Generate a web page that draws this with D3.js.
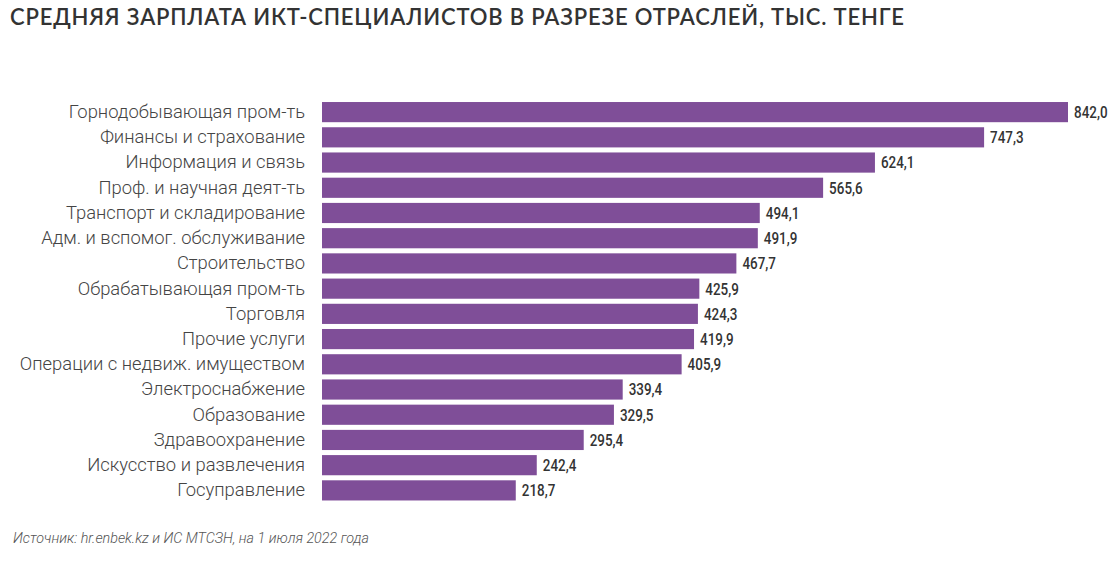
<!DOCTYPE html>
<html><head><meta charset="utf-8">
<script src="https://cdn.jsdelivr.net/npm/d3@7"></script>
<style>body{margin:0;background:#fff;}</style>
</head><body>
<svg id="c" width="1120" height="561"></svg>
<script>
const categories = ["Горнодобывающая пром-ть","Финансы и страхование","Информация и связь","Проф. и научная деят-ть","Транспорт и складирование","Адм. и вспомог. обслуживание","Строительство","Обрабатывающая пром-ть","Торговля","Прочие услуги","Операции с недвиж. имуществом","Электроснабжение","Образование","Здравоохранение","Искусство и развлечения","Госуправление"];
const values = [842.0,747.3,624.1,565.6,494.1,491.9,467.7,425.9,424.3,419.9,405.9,339.4,329.5,295.4,242.4,218.7];
const title = "СРЕДНЯЯ ЗАРПЛАТА ИКТ-СПЕЦИАЛИСТОВ В РАЗРЕЗЕ ОТРАСЛЕЙ, ТЫС. ТЕНГЕ";
const source = "Источник: hr.enbek.kz и ИС МТСЗН, на 1 июля 2022 года";

const svg = d3.select("#c");
const x = d3.scaleLinear().domain([0, 842]).range([322, 1068]);
const y = d3.scaleBand().domain(categories).range([99.5, 503]).paddingInner(0.2).paddingOuter(0.1);

svg.append("text").attr("x", 10).attr("y", 25).text(title)
  .attr("font-family", "Lato").attr("font-weight", 600).attr("font-size", 22).attr("fill", "#333")
  .attr("textLength", 894).attr("lengthAdjust", "spacing");

const yAxis = d3.axisLeft(y).tickSize(0).tickPadding(17);
const ga = svg.append("g").attr("transform", `translate(${x(0)},0)`).call(yAxis);
ga.select(".domain").remove();
ga.selectAll("text").attr("font-family", "Roboto").attr("font-weight", 300).attr("font-size", 18.4).attr("fill", "#444");

svg.selectAll("rect.bar").data(values).join("rect").attr("class","bar")
  .attr("x", x(0)).attr("y", (d,i)=>y(categories[i]))
  .attr("width", d=>x(d)-x(0)).attr("height", y.bandwidth()).attr("fill", "#7f4e98");

svg.selectAll("text.val").data(values).join("text").attr("class","val")
  .attr("transform", (d,i)=>`translate(${x(d)+6},${y(categories[i])+y.bandwidth()/2}) scale(0.84,1)`)
  .attr("dy","0.37em")
  .text(d=>d.toFixed(1).replace(".", ","))
  .attr("font-family", "Roboto").attr("font-weight", 500).attr("font-size", 16).attr("fill", "#333");

svg.append("text").attr("x", 13).attr("y", 543).text(source)
  .attr("font-family", "Roboto").attr("font-style", "italic").attr("font-weight", 300).attr("font-size", 14.3).attr("fill", "#555");
</script>
</body></html>
